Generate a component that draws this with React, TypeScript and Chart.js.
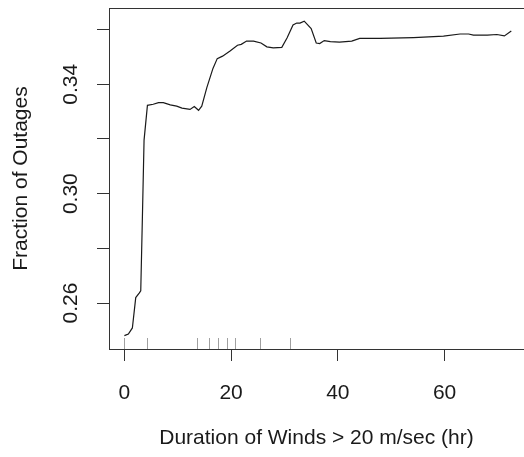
import React, { useEffect, useRef } from "react";
import { Chart, registerables } from "chart.js";

Chart.register(...registerables);

const durationHr = [
  0, 0.75, 1.5, 2.13, 2.81, 3.07, 3.38, 3.69, 4.32, 5.4, 6.4, 7.3, 8.6, 9.8, 10.8, 12.3, 13.1, 13.9, 14.5,
  15.45, 16.6, 17.4, 18.4, 19.8, 21.2, 21.9, 22.9, 24.2, 25.6, 26.7, 27.9, 29.5, 30.5, 31.6, 32.3, 32.9,
  33.7, 35.0, 35.95, 36.6, 37.45, 38.6, 40.3, 42.6, 44.1, 47.9, 54.2, 59.8, 62.9, 64.5, 65.4, 68, 69.8,
  71.2, 72.5,
];
const fractionOutages = [
  0.2481, 0.2487, 0.2509, 0.262, 0.2637, 0.2645, 0.2916, 0.3196, 0.3323, 0.3327, 0.3333, 0.3333, 0.3325,
  0.332, 0.3313, 0.3308, 0.3319, 0.3305, 0.332, 0.3388, 0.3458, 0.3494, 0.3503, 0.3522, 0.3543, 0.3546,
  0.3558, 0.3558, 0.3551, 0.3537, 0.3533, 0.3535, 0.357, 0.3617, 0.3624, 0.3624, 0.3631, 0.3604, 0.3551,
  0.3549, 0.356, 0.3556, 0.3554, 0.3558, 0.3568, 0.3568, 0.3571, 0.3576, 0.3584, 0.3584, 0.358, 0.358,
  0.3582, 0.3577, 0.3595,
];
const rugX = [0, 4.2, 13.6, 15.9, 17.5, 19.2, 20.8, 25.4, 31.1];
const yLabelled = [26, 30, 34];
const X_MIN = -2.88;
const X_MAX = 74.88;
const Y_MIN = 0.2432;
const Y_MAX = 0.3679;

const FONT = "'Liberation Sans', Arial, Helvetica, sans-serif";
const INK = "#1a1a1a";

const boxRug = {
  id: "boxRug",
  afterDatasetsDraw(chart: any) {
    const { ctx, chartArea: a, scales } = chart;
    const x = scales.x;
    ctx.save();
    ctx.lineWidth = 1;
    ctx.strokeStyle = "#a0a0a0";
    for (const r of rugX) {
      const px = Math.round(x.getPixelForValue(r)) + 0.5;
      ctx.beginPath();
      ctx.moveTo(px, a.bottom);
      ctx.lineTo(px, a.bottom - 11);
      ctx.stroke();
    }
    ctx.strokeStyle = "#333";
    ctx.strokeRect(Math.round(a.left) + 0.5, Math.round(a.top) + 0.5, a.right - a.left, a.bottom - a.top);
    ctx.restore();
  },
};

const zeroPad = (s: any) => {
  s.paddingTop = 0;
  s.paddingBottom = 0;
  s.paddingLeft = 0;
  s.paddingRight = 0;
};

export default function App() {
  const ref = useRef<HTMLCanvasElement>(null);
  useEffect(() => {
    document.body.style.margin = "0";
    const chart = new Chart(ref.current!, {
      type: "line",
      data: {
        datasets: [
          {
            data: durationHr.map((d, i) => ({ x: d, y: fractionOutages[i] })),
            borderColor: INK,
            borderWidth: 1.2,
            pointRadius: 0,
            tension: 0,
            fill: false,
          },
        ],
      },
      options: {
        animation: false,
        responsive: false,
        events: [],
        layout: { padding: { top: 8, right: 0, left: 0, bottom: 0 } },
        plugins: { legend: { display: false }, tooltip: { enabled: false } },
        scales: {
          x: {
            type: "linear",
            min: X_MIN,
            max: X_MAX,
            afterFit: (s: any) => {
              s.height = 108;
              zeroPad(s);
            },
            border: { display: false },
            grid: { drawOnChartArea: false, drawTicks: true, tickLength: 12, color: "#333", lineWidth: 1 },
            ticks: {
              stepSize: 20,
              includeBounds: false,
              autoSkip: false,
              maxRotation: 0,
              padding: 20,
              color: INK,
              font: { family: FONT, size: 21 },
            },
            title: {
              display: true,
              text: "Duration of Winds > 20 m/sec (hr)",
              color: INK,
              font: { family: FONT, size: 21 },
              padding: { top: 0, bottom: 6 },
            },
          },
          y: {
            type: "linear",
            min: Y_MIN,
            max: Y_MAX,
            afterFit: (s: any) => {
              s.width = 109;
              zeroPad(s);
            },
            border: { display: false },
            grid: { drawOnChartArea: false, drawTicks: true, tickLength: 12, color: "#333", lineWidth: 1 },
            ticks: {
              stepSize: 0.02,
              includeBounds: false,
              autoSkip: false,
              minRotation: 90,
              maxRotation: 90,
              crossAlign: "center",
              padding: 5,
              color: INK,
              font: { family: FONT, size: 21 },
              callback: (v: any) => (yLabelled.includes(Math.round(Number(v) * 100)) ? Number(v).toFixed(2) : ""),
            },
            title: {
              display: true,
              text: "Fraction of Outages",
              color: INK,
              font: { family: FONT, size: 21 },
              padding: { top: 9, bottom: 0 },
            },
          },
        },
      },
      plugins: [boxRug],
    } as any);
    return () => chart.destroy();
  }, []);
  return <canvas ref={ref} width={524} height={457} style={{ display: "block" }} />;
}
